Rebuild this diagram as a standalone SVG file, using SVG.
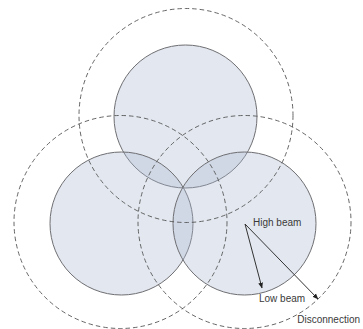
<svg xmlns="http://www.w3.org/2000/svg" width="363" height="329" viewBox="0 0 363 329">
<defs>
<style>
.cell{fill:#a9b8d2;fill-opacity:0.33;stroke:#6e6e72;stroke-width:1}
.range{fill:none;stroke:#555;stroke-width:0.9;stroke-dasharray:4.5 3}
.lbl{font-family:"Liberation Sans",Arial,sans-serif;font-size:10px;fill:#3a3a3a}
.arr{stroke:#333;stroke-width:1;fill:none}
</style>
<marker id="ah" viewBox="0 0 10 10" refX="9" refY="5" markerWidth="6" markerHeight="6" orient="auto-start-reverse">
<path d="M0,1 L10,5 L0,9 z" fill="#222"/>
</marker>
</defs>
<rect width="363" height="329" fill="#fff"/>
<g id="cell-top"><circle class="cell" cx="185.5" cy="116.5" r="71.5"/></g>
<g id="cell-left"><circle class="cell" cx="121.5" cy="223.5" r="71.5"/></g>
<g id="cell-right"><circle class="cell" cx="244.5" cy="223.5" r="71.5"/></g>
<g id="range-top"><circle class="range" cx="186" cy="115.5" r="107"/></g>
<g id="range-left"><circle class="range" cx="120.5" cy="222" r="106.5"/></g>
<g id="range-right"><circle class="range" cx="244.5" cy="222" r="106.5"/></g>
<g id="connectors">
<line class="arr" x1="245" y1="224" x2="262" y2="288" marker-end="url(#ah)"/>
<line class="arr" x1="245" y1="224" x2="318" y2="299" marker-end="url(#ah)"/>
</g>
<g id="labels">
<text class="lbl" x="253" y="226">High beam</text>
<text class="lbl" x="259" y="302">Low beam</text>
<text class="lbl" x="360" y="323" font-size="9" text-anchor="end">Disconnection</text>
</g>
</svg>
